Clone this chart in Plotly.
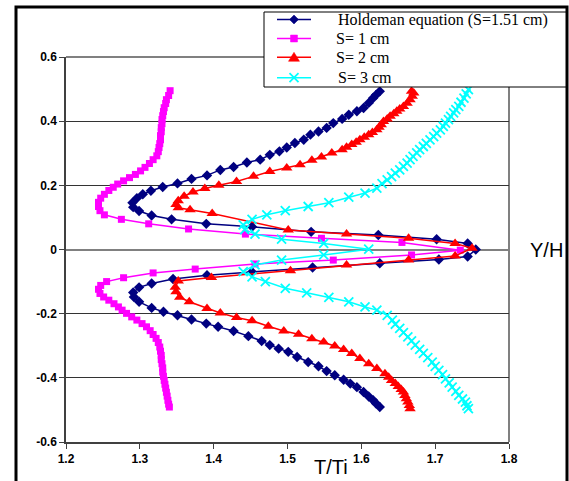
import plotly.graph_objects as go

# ---- data (T/Ti, Y/H) ----
hold_T = [1.625, 1.620, 1.616, 1.610, 1.603, 1.594, 1.583, 1.574, 1.562, 1.553, 1.542, 1.531, 1.522, 1.510,
          1.499, 1.489, 1.476, 1.463, 1.445, 1.427, 1.409, 1.391, 1.370, 1.351, 1.331, 1.315, 1.304, 1.296,
          1.290, 1.291, 1.299, 1.316, 1.343, 1.390, 1.452, 1.532, 1.623, 1.702, 1.744, 1.755,
          1.744, 1.705, 1.625, 1.534, 1.452, 1.391, 1.345, 1.316, 1.299, 1.291, 1.292, 1.299, 1.316, 1.332,
          1.351, 1.370, 1.390, 1.406, 1.427, 1.447, 1.465, 1.476, 1.488, 1.501, 1.513, 1.528, 1.542, 1.553,
          1.564, 1.576, 1.585, 1.594, 1.603, 1.610, 1.616, 1.620, 1.625]
hold_Y = [0.493, 0.482, 0.472, 0.457, 0.441, 0.431, 0.420, 0.407, 0.394, 0.379, 0.368, 0.358, 0.342, 0.332,
          0.318, 0.306, 0.295, 0.280, 0.271, 0.257, 0.248, 0.231, 0.220, 0.206, 0.195, 0.183, 0.172, 0.160,
          0.146, 0.132, 0.120, 0.106, 0.094, 0.080, 0.071, 0.055, 0.045, 0.032, 0.019, 0.000,
          -0.022, -0.031, -0.043, -0.056, -0.070, -0.080, -0.092, -0.106, -0.118, -0.134, -0.148, -0.163,
          -0.182, -0.194, -0.205, -0.218, -0.231, -0.241, -0.254, -0.270, -0.285, -0.298, -0.309, -0.319,
          -0.335, -0.351, -0.364, -0.379, -0.392, -0.406, -0.418, -0.429, -0.444, -0.458, -0.470, -0.480,
          -0.491]

s1_T = [1.341, 1.339, 1.336, 1.335, 1.333, 1.332, 1.331, 1.330, 1.330, 1.329, 1.329, 1.328, 1.328, 1.327,
        1.326, 1.325, 1.323, 1.318, 1.313, 1.307, 1.301, 1.294, 1.286, 1.278, 1.270, 1.264, 1.258, 1.252,
        1.247, 1.244, 1.244, 1.246, 1.252, 1.275, 1.312, 1.366, 1.443, 1.546, 1.655, 1.734,
        1.668, 1.562, 1.456, 1.375, 1.318, 1.278, 1.255, 1.247, 1.244, 1.246, 1.251, 1.258, 1.265, 1.271,
        1.276, 1.282, 1.289, 1.296, 1.303, 1.309, 1.314, 1.318, 1.322, 1.325, 1.327, 1.328, 1.329, 1.329,
        1.330, 1.331, 1.331, 1.332, 1.333, 1.334, 1.335, 1.336, 1.337, 1.338, 1.339, 1.340]
s1_Y = [0.495, 0.480, 0.467, 0.455, 0.442, 0.430, 0.417, 0.405, 0.392, 0.380, 0.367, 0.355, 0.342, 0.330,
        0.318, 0.305, 0.292, 0.280, 0.268, 0.256, 0.245, 0.234, 0.224, 0.214, 0.204, 0.194, 0.184, 0.172,
        0.160, 0.147, 0.134, 0.121, 0.108, 0.094, 0.080, 0.064, 0.048, 0.035, 0.022, -0.002,
        -0.017, -0.033, -0.045, -0.061, -0.073, -0.088, -0.100, -0.112, -0.124, -0.137, -0.148, -0.158,
        -0.169, -0.179, -0.189, -0.199, -0.210, -0.220, -0.231, -0.241, -0.253, -0.265, -0.277, -0.290,
        -0.304, -0.317, -0.330, -0.343, -0.356, -0.369, -0.382, -0.395, -0.408, -0.420, -0.432, -0.445,
        -0.457, -0.470, -0.482, -0.491]

s2_T = [1.668, 1.671, 1.669, 1.666, 1.662, 1.657, 1.652, 1.648, 1.644, 1.639, 1.635, 1.630, 1.627, 1.624,
        1.621, 1.615, 1.610, 1.604, 1.598, 1.593, 1.587, 1.580, 1.574, 1.560, 1.546, 1.533, 1.517, 1.499,
        1.476, 1.454, 1.431, 1.407, 1.388, 1.372, 1.360, 1.352, 1.349, 1.352, 1.368, 1.398, 1.501, 1.580,
        1.664, 1.727, 1.750, 1.727, 1.664, 1.580, 1.504, 1.397, 1.352, 1.348, 1.349, 1.354, 1.367, 1.391,
        1.409, 1.431, 1.452, 1.474, 1.495, 1.515, 1.533, 1.549, 1.564, 1.576, 1.587, 1.598, 1.610, 1.621,
        1.632, 1.637, 1.641, 1.646, 1.650, 1.654, 1.657, 1.659, 1.661, 1.663, 1.665, 1.666]
s2_Y = [0.493, 0.488, 0.478, 0.467, 0.456, 0.446, 0.438, 0.431, 0.423, 0.415, 0.407, 0.399, 0.389, 0.381,
        0.373, 0.365, 0.358, 0.350, 0.342, 0.334, 0.327, 0.319, 0.311, 0.301, 0.288, 0.278, 0.264, 0.254,
        0.243, 0.228, 0.212, 0.200, 0.190, 0.179, 0.166, 0.152, 0.140, 0.130, 0.124, 0.112, 0.061, 0.048,
        0.035, 0.019, 0.004, -0.020, -0.033, -0.048, -0.066, -0.087, -0.098, -0.118, -0.132, -0.149, -0.163,
        -0.184, -0.198, -0.212, -0.222, -0.239, -0.254, -0.264, -0.278, -0.288, -0.301, -0.312, -0.324,
        -0.340, -0.356, -0.371, -0.387, -0.398, -0.408, -0.418, -0.427, -0.436, -0.444, -0.455, -0.465,
        -0.475, -0.486, -0.496]

s3_T = [1.745, 1.742, 1.739, 1.735, 1.732, 1.728, 1.725, 1.721, 1.718, 1.714, 1.711, 1.707, 1.702, 1.698,
        1.693, 1.688, 1.684, 1.679, 1.675, 1.670, 1.666, 1.662, 1.657, 1.652, 1.646, 1.641, 1.635, 1.628,
        1.621, 1.605, 1.583, 1.556, 1.528, 1.497, 1.472, 1.452, 1.440, 1.442, 1.456, 1.492, 1.549, 1.610,
        1.549, 1.492, 1.456, 1.440, 1.452, 1.470, 1.497, 1.526, 1.556, 1.583, 1.605, 1.621, 1.635, 1.642,
        1.646, 1.652, 1.657, 1.663, 1.668, 1.673, 1.679, 1.684, 1.690, 1.696, 1.700, 1.705, 1.710, 1.714,
        1.719, 1.723, 1.728, 1.732, 1.737, 1.741, 1.743, 1.745]
s3_Y = [0.498, 0.485, 0.472, 0.459, 0.446, 0.436, 0.426, 0.415, 0.405, 0.394, 0.384, 0.373, 0.363, 0.352,
        0.342, 0.331, 0.321, 0.311, 0.301, 0.290, 0.280, 0.269, 0.259, 0.248, 0.238, 0.227, 0.217, 0.205,
        0.191, 0.176, 0.163, 0.146, 0.134, 0.121, 0.108, 0.094, 0.077, 0.062, 0.048, 0.032, 0.019, 0.001,
        -0.017, -0.033, -0.048, -0.069, -0.085, -0.100, -0.121, -0.135, -0.149, -0.163, -0.179, -0.189,
        -0.205, -0.220, -0.233, -0.246, -0.259, -0.272, -0.285, -0.298, -0.311, -0.324, -0.337, -0.351,
        -0.364, -0.377, -0.390, -0.403, -0.416, -0.429, -0.442, -0.455, -0.466, -0.476, -0.487, -0.496]

series_names = ["Holdeman equation (S=1.51 cm)", "S= 1 cm", "S= 2 cm", "S= 3 cm"]
series_colors = ["#000080", "#FF00FF", "#FF0000", "#00FFFF"]
x_ticks = [1.2, 1.3, 1.4, 1.5, 1.6, 1.7, 1.8]
y_ticks = [-0.6, -0.4, -0.2, 0, 0.2, 0.4, 0.6]

fig = go.Figure()
fig.add_trace(go.Scatter(x=hold_T, y=hold_Y, mode="lines+markers", name=series_names[0],
                         line=dict(color=series_colors[0], width=1.5),
                         marker=dict(symbol="diamond", size=8, color=series_colors[0])))
fig.add_trace(go.Scatter(x=s1_T, y=s1_Y, mode="lines+markers", name=series_names[1],
                         line=dict(color=series_colors[1], width=1.5),
                         marker=dict(symbol="square", size=7, color=series_colors[1])))
fig.add_trace(go.Scatter(x=s2_T, y=s2_Y, mode="lines+markers", name=series_names[2],
                         line=dict(color=series_colors[2], width=1.5),
                         marker=dict(symbol="triangle-up", size=10, color=series_colors[2])))
fig.add_trace(go.Scatter(x=s3_T, y=s3_Y, mode="lines+markers", name=series_names[3],
                         line=dict(color=series_colors[3], width=1.5),
                         marker=dict(symbol="x-thin", size=9, color=series_colors[3],
                                     line=dict(color=series_colors[3], width=1.8))))

W, H = 569, 481
L, R, T, B = 66, 60, 57, 39
pw, ph = W - L - R, H - T - B


def px(xp):
    return (xp - L) / pw


def py(yp):
    return (H - B - yp) / ph


def path(points):
    return "M " + " L ".join(f"{px(a):.5f},{py(b):.5f}" for a, b in points) + " Z"


shapes = [
    # outer chart frame
    dict(type="rect", xref="paper", yref="paper", x0=px(16), x1=px(567), y0=py(495), y1=py(7),
         line=dict(color="black", width=3), fillcolor="rgba(0,0,0,0)", layer="below"),
    # right edge and top edge of plot area (grey)
    dict(type="line", xref="paper", yref="paper", x0=1, x1=1, y0=0, y1=1,
         line=dict(color="#808080", width=2), layer="below"),
    dict(type="line", xref="paper", yref="paper", x0=0, x1=1, y0=1, y1=1,
         line=dict(color="#808080", width=2), layer="above"),
    # legend box
    dict(type="rect", xref="paper", yref="paper", x0=px(264), x1=px(566), y0=py(87), y1=py(12),
         line=dict(color="black", width=1), fillcolor="white", layer="above"),
]

# legend keys (drawn in the box)
row_y = [19.5, 38.5, 57.3, 77.7]
kx0, kx1, kc = 277, 311, 294
annotations = []
text_x = [336, 334, 334, 336]
for i, (name, col) in enumerate(zip(series_names, series_colors)):
    yy = row_y[i]
    shapes.append(dict(type="line", xref="paper", yref="paper", x0=px(kx0), x1=px(kx1), y0=py(yy), y1=py(yy),
                       line=dict(color=col, width=1.5), layer="above"))
    annotations.append(dict(text=name, xref="paper", yref="paper", x=px(text_x[i]), y=py(yy),
                            xanchor="left", yanchor="middle", showarrow=False,
                            font=dict(family="Liberation Serif", size=16, color="black")))
# diamond
shapes.append(dict(type="path", xref="paper", yref="paper",
                   path=path([(kc, row_y[0] - 4.5), (kc + 4.5, row_y[0]), (kc, row_y[0] + 4.5), (kc - 4.5, row_y[0])]),
                   fillcolor=series_colors[0], line=dict(color=series_colors[0], width=0.5), layer="above"))
# square
shapes.append(dict(type="rect", xref="paper", yref="paper", x0=px(kc - 3.5), x1=px(kc + 3.5),
                   y0=py(row_y[1] + 3.5), y1=py(row_y[1] - 3.5),
                   fillcolor=series_colors[1], line=dict(color=series_colors[1], width=0.5), layer="above"))
# triangle
shapes.append(dict(type="path", xref="paper", yref="paper",
                   path=path([(kc, row_y[2] - 5), (kc + 5.5, row_y[2] + 4), (kc - 5.5, row_y[2] + 4)]),
                   fillcolor=series_colors[2], line=dict(color=series_colors[2], width=0.5), layer="above"))
# x
for dx in (-1, 1):
    shapes.append(dict(type="line", xref="paper", yref="paper", x0=px(kc - 4.5), x1=px(kc + 4.5),
                       y0=py(row_y[3] - 4.5 * dx), y1=py(row_y[3] + 4.5 * dx),
                       line=dict(color=series_colors[3], width=1.8), layer="above"))

annotations += [
    dict(text="T/Ti", xref="paper", yref="paper", x=px(331), y=py(467), showarrow=False,
         xanchor="center", yanchor="middle",
         font=dict(family="Liberation Sans", size=20, color="black")),
    dict(text="Y/H", xref="paper", yref="paper", x=px(546), y=py(250), showarrow=False,
         xanchor="center", yanchor="middle",
         font=dict(family="Liberation Sans", size=20, color="black")),
]

fig.update_layout(
    width=W, height=H,
    margin=dict(l=L, r=R, t=T, b=B, pad=0, autoexpand=False),
    paper_bgcolor="white", plot_bgcolor="white",
    showlegend=False,
    shapes=shapes,
    annotations=annotations,
    xaxis=dict(range=[1.2, 1.8], tickvals=x_ticks, ticktext=[f"<b>{v:.1f}</b>" for v in x_ticks],
               showgrid=False, zeroline=False, showline=True, linecolor="#404040", linewidth=1.5,
               ticks="outside", ticklen=5, tickcolor="#404040",
               tickfont=dict(family="Liberation Sans", size=12, color="black")),
    yaxis=dict(range=[-0.6, 0.6], tickvals=y_ticks,
               ticktext=["<b>-0.6</b>", "<b>-0.4</b>", "<b>-0.2</b>", "<b>0</b>", "<b>0.2</b>", "<b>0.4</b>", "<b>0.6</b>"],
               showgrid=True, gridcolor="#333333", gridwidth=1,
               zeroline=True, zerolinecolor="#808080", zerolinewidth=2,
               showline=True, linecolor="#404040", linewidth=1.5,
               ticks="outside", ticklen=5, tickcolor="#404040",
               tickfont=dict(family="Liberation Sans", size=12, color="black")),
)

fig.write_html("out.html", config={"displayModeBar": False},
               post_script="document.body.style.margin='0';")
